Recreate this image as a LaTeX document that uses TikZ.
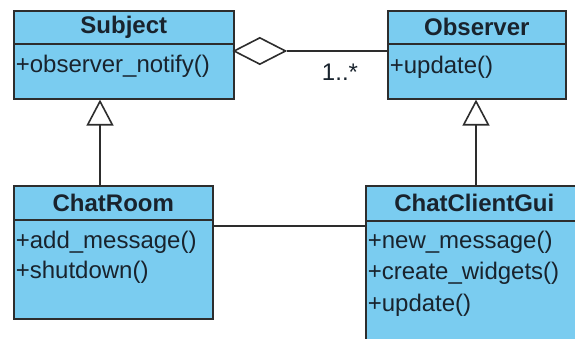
\documentclass[tikz,border=0pt]{standalone}
\usepackage{fontspec}
\setmainfont{Liberation Sans}
\usetikzlibrary{arrows.meta,
                shapes.geometric}
\definecolor{umlblue}{RGB}{122,204,240}
\definecolor{umlline}{RGB}{45,45,45}
\definecolor{umltext}{RGB}{25,35,45}

\begin{document}
\begin{tikzpicture}%
    [x = 1pt, y = -1pt, line width = 1.6pt,
     head/.style = {draw = umlline, fill = umlblue, text = umltext, inner sep = 0pt, anchor = north west,
                    font = \fontsize{24}{24}\selectfont\bfseries},
     body/.style = {draw = umlline, fill = umlblue, inner sep = 0pt, anchor = north west},
     op/.style = {text = umltext, inner sep = 0pt, anchor = west, font = \fontsize{24}{24}\selectfont},
     gen/.style = {draw = umlline, -{Triangle[open, length = 26pt, width = 27pt, fill = white]}}]
    \useasboundingbox (0, 0) rectangle (575, 339);
    \clip (0, 0) rectangle (575, 339);

    \node [head, minimum width = 220, minimum height = 33] (subj) at (13, 10) {Subject};
    \node [body, minimum width = 220, minimum height = 55] (subjb) at (13, 43) {};
    \node [op] (s1) at (15, 66) {+observer\_notify()};

    \node [head, minimum width = 178, minimum height = 33] (obs) at (387, 10) {Observer};
    \node [body, minimum width = 178, minimum height = 55] (obsb) at (387, 43) {};
    \node [op] (o1) at (389, 67) {+update()};

    \node [head, minimum width = 199, minimum height = 34] (room) at (13, 185) {ChatRoom};
    \node [body, minimum width = 199, minimum height = 99] (roomb) at (13, 219) {};
    \node [op] (r1) at (15, 242) {+add\_message()};
    \node [op] (r2) at (15, 272) {+shutdown()};

    \node [head, minimum width = 217, minimum height = 35] (gui) at (365, 185) {ChatClientGui};
    \node [body, minimum width = 217, minimum height = 140] (guib) at (365, 220) {};
    \node [op] (g1) at (367, 242) {+new\_message()};
    \node [op] (g2) at (367, 273) {+create\_widgets()};
    \node [op] (g3) at (367, 305) {+update()};

    \node [diamond, draw = umlline, fill = white, inner sep = 0pt, anchor = west,
           minimum width = 52, minimum height = 27] (agg) at (233, 51) {};
    \draw [umlline] (agg.east) -- (agg.east -| obsb.west);
    \node [op, anchor = center] (mult) at (340, 72) {1..*};

    \draw [umlline] ([yshift = -7pt]roomb.north east) -- ([yshift = -7pt]roomb.north east -| guib.west);

    \draw [gen] ([xshift = 87pt]room.north west) -- ([xshift = 87pt]subjb.south west);
    \draw [gen] ([xshift = 111pt]gui.north west) -- ([xshift = 89pt]obsb.south west);
\end{tikzpicture}
\end{document}
